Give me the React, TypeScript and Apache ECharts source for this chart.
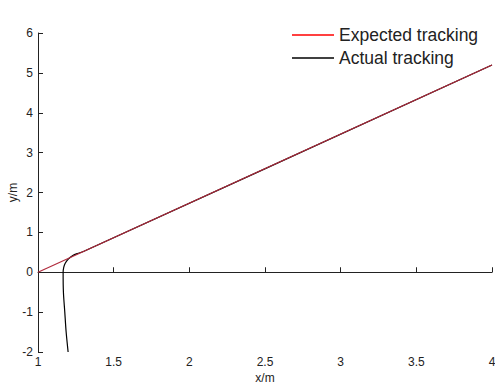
import React, { useEffect, useRef } from "react";
import * as echarts from "echarts";

const expectedX = [1, 4];
const expectedY = [0, 5.196];
const actualX = [1.199, 1.186, 1.177, 1.168, 1.166, 1.17, 1.179, 1.2, 1.23, 1.26, 1.3, 4];
const actualY = [-2, -1.5, -1, -0.5, 0, 0.12, 0.22, 0.33, 0.42, 0.47, 0.52, 5.196];
const xTicks = [1, 1.5, 2, 2.5, 3, 3.5, 4];
const yTicks = [-2, -1, 0, 1, 2, 3, 4, 5, 6];

export default function App() {
  const ref = useRef<HTMLDivElement>(null);
  useEffect(() => {
    if (!ref.current) return;
    const chart = echarts.init(ref.current, undefined, { renderer: "svg" });
    const font = "Liberation Sans, Arial, sans-serif";
    chart.setOption({
      animation: false,
      backgroundColor: "#ffffff",
      textStyle: { fontFamily: font },
      grid: { left: 38, right: 3, top: 33, bottom: 35, containLabel: false, outerBoundsMode: "none" },
      legend: {
        left: 292,
        top: 26,
        orient: "vertical",
        itemWidth: 42,
        itemHeight: 1.5,
        itemGap: 5,
        icon: "rect",
        padding: 0,
        textStyle: { fontSize: 17.5, color: "#222", fontFamily: font },
        data: [
          { name: "Expected tracking", itemStyle: { color: "#ff0000" } },
          { name: "Actual tracking", itemStyle: { color: "#000000" } },
        ],
      },
      xAxis: {
        type: "value",
        min: xTicks[0],
        max: xTicks[xTicks.length - 1],
        interval: 0.5,
        name: "x/m",
        nameLocation: "middle",
        nameGap: 20,
        nameMoveOverlap: false,
        nameTextStyle: { fontSize: 12, color: "#222", fontFamily: font },
        axisLine: { lineStyle: { color: "#222", width: 1 } },
        axisTick: { inside: true, length: 5, lineStyle: { color: "#222" } },
        axisLabel: { fontSize: 12, color: "#222", margin: 4, fontFamily: font },
        splitLine: { show: false },
      },
      yAxis: {
        type: "value",
        min: yTicks[0],
        max: yTicks[yTicks.length - 1],
        interval: 1,
        name: "y/m",
        nameLocation: "middle",
        nameGap: 19,
        nameMoveOverlap: false,
        nameTextStyle: { fontSize: 12, color: "#222", fontFamily: font },
        axisLine: { show: true, lineStyle: { color: "#222", width: 1 } },
        axisTick: { show: true, inside: true, length: 5, lineStyle: { color: "#222" } },
        axisLabel: { fontSize: 12, color: "#222", margin: 5, fontFamily: font },
        splitLine: { show: false },
      },
      series: [
        {
          name: "Actual tracking",
          type: "line",
          data: actualX.map((x, i) => [x, actualY[i]]),
          showSymbol: false,
          smooth: 0.3,
          color: "#000000",
          lineStyle: { color: "#000000", width: 1.2 },
          z: 2,
        },
        {
          name: "Expected tracking",
          type: "line",
          data: expectedX.map((x, i) => [x, expectedY[i]]),
          showSymbol: false,
          color: "#ff0000",
          lineStyle: { color: "#b02a3c", width: 1.2 },
          z: 3,
        },
      ],
    });
    return () => chart.dispose();
  }, []);
  return (
    <div
      ref={ref}
      style={{ position: "fixed", left: 0, top: 0, width: 495, height: 387, background: "#fff" }}
    />
  );
}
